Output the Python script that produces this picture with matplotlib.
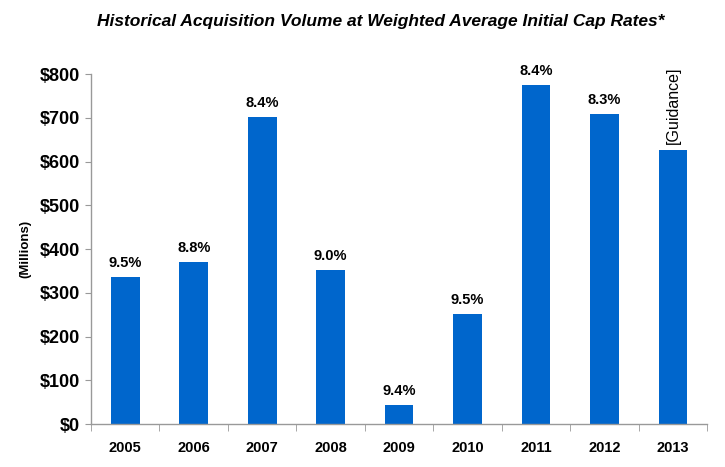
import matplotlib
matplotlib.use("Agg")
import matplotlib.pyplot as plt
import numpy as np

years = ["2005", "2006", "2007", "2008", "2009", "2010", "2011", "2012", "2013"]
volumes = [337, 371, 702, 351, 43, 251, 775, 709, 627]
cap_labels = ["9.5%", "8.8%", "8.4%", "9.0%", "9.4%", "9.5%", "8.4%", "8.3%", "[Guidance]"]
yticks = [0, 100, 200, 300, 400, 500, 600, 700, 800]

plt.rcParams['font.family'] = ['Liberation Sans', 'DejaVu Sans']

fig = plt.figure(figsize=(7.25, 4.67), dpi=100)
ax = fig.add_axes([0.1255, 0.092, 0.85, 0.7495])

x = np.arange(len(years))
bars = ax.bar(x, volumes, width=0.42, color="#0066CC", zorder=2)

ax.set_xlim(-0.5, len(years) - 0.5)
ax.set_ylim(0, 800)
ax.set_yticks(yticks)
ax.set_yticklabels([f"${v}" for v in yticks], fontsize=13, fontweight="bold")

ax.set_xticks(x)
ax.set_xticklabels(years, fontsize=10.5, fontweight="bold")
ax.tick_params(axis="x", length=0, pad=12)
ax.set_xticks(np.arange(-0.5, len(years)), minor=True)
ax.tick_params(axis="x", which="minor", length=5, color="#999999", direction="out")
ax.tick_params(axis="y", length=4, color="#999999", direction="out", pad=4)

for s in ["top", "right"]:
    ax.spines[s].set_visible(False)
for s in ["left", "bottom"]:
    ax.spines[s].set_color("#999999")
    ax.spines[s].set_linewidth(1)

for xi, v, lab in zip(x, volumes, cap_labels):
    if lab.startswith("["):
        ax.text(xi, v + 12, lab, rotation=90, ha="center", va="bottom",
                fontsize=11.5, fontweight="normal")
    else:
        ax.text(xi, v + 16, lab, ha="center", va="bottom",
                fontsize=10.5, fontweight="bold")

ax.set_ylabel("(Millions)", fontsize=9.5, fontweight="bold", labelpad=6)

fig.text(0.525, 0.955, "Historical Acquisition Volume at Weighted Average Initial Cap Rates*",
         ha="center", va="center", fontsize=12.5, fontweight="bold", style="italic")

fig.savefig("out.png", dpi=100)
